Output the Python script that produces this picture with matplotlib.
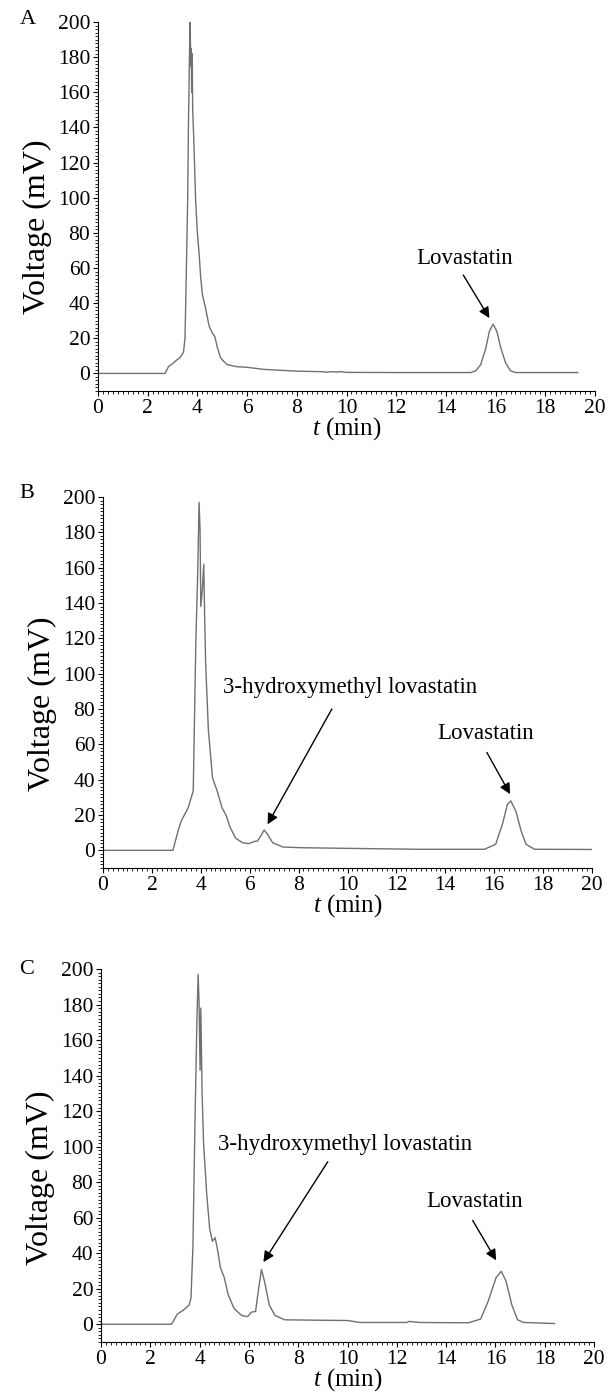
import numpy as np
import matplotlib.pyplot as plt
from matplotlib.ticker import MultipleLocator

plt.rcParams['font.family'] = ['Liberation Serif', 'DejaVu Serif']
plt.rcParams['mathtext.fontset'] = 'custom'
plt.rcParams['mathtext.rm'] = 'Liberation Serif'
plt.rcParams['mathtext.it'] = 'Liberation Serif:italic'

# chromatogram A (t in min, voltage in mV)
t_a = [0, 2.7, 2.84, 3.0, 3.11, 3.3, 3.44, 3.5, 3.53, 3.57, 3.61, 3.64, 3.68, 3.71,
       3.73, 3.75, 3.77, 3.79, 3.81, 3.85, 3.93, 4.0, 4.07, 4.13, 4.2, 4.33, 4.47,
       4.6, 4.7, 4.8, 4.93, 5.05, 5.2, 5.6, 6.0, 6.67, 8.0, 9.0, 9.2, 9.4, 9.6, 9.8,
       10.0, 12.0, 14.0, 15.0, 15.2, 15.4, 15.6, 15.75, 15.9, 16.05, 16.2, 16.4,
       16.6, 16.8, 19.3]
v_a = [0, 0, 4, 5.5, 7, 9, 12, 20, 40, 70, 100, 142, 180, 200,
       175, 185, 160, 182, 150, 135, 98, 80, 68, 55, 45, 37, 27,
       23, 21, 15, 9, 7, 5, 3.8, 3.5, 2.3, 1.3, 1.0, 0.7, 1.0, 0.8, 1.0,
       0.6, 0.5, 0.5, 0.5, 1.5, 5, 14, 24, 28, 24, 15, 6,
       1.5, 0.5, 0.5]

# chromatogram B
t_b = [0, 2.86, 3.07, 3.2, 3.48, 3.69, 3.8, 3.87, 3.93, 3.97, 4.0, 4.06, 4.12,
       4.15, 4.2, 4.31, 4.48, 4.66, 4.87, 5.03, 5.2, 5.42, 5.7, 5.97, 6.18, 6.32,
       6.45, 6.59, 6.73, 6.94, 7.35, 8.05, 10.1, 12.9, 15.0, 15.6, 16.06, 16.34,
       16.54, 16.68, 16.89, 17.1, 17.3, 17.65, 20.0]
v_b = [0, 0, 11, 16.6, 24, 33.6, 120, 155, 197, 181, 138, 147, 162,
       138, 105, 68, 41, 34, 24, 20, 13, 7, 4.3, 3.8, 5, 5.3,
       8, 11.5, 9, 4.3, 1.9, 1.5, 1.1, 0.6, 0.6, 0.6, 3.4, 15,
       26, 28, 22, 11, 3.4, 0.6, 0.5]

# chromatogram C
t_c = [0, 2.86, 3.1, 3.33, 3.57, 3.65, 3.73, 3.81, 3.89, 3.94, 3.98, 4.02, 4.05,
       4.1, 4.16, 4.29, 4.41, 4.52, 4.63, 4.73, 4.84, 5.0, 5.16, 5.4, 5.71, 5.95,
       6.1, 6.27, 6.38, 6.51, 6.63, 6.83, 7.06, 7.46, 8.57, 10.0, 10.5, 12.4, 12.5,
       12.9, 14.9, 15.4, 15.7, 16.03, 16.24, 16.43, 16.67, 16.9, 17.14, 18.4]
v_c = [0, 0, 5.8, 7.8, 10.7, 14.6, 44, 112, 170, 197, 180, 143, 178,
       131, 102, 73, 53.6, 46.7, 48.7, 41.9, 32, 26.3, 16.6, 8.8, 4.9, 4.3,
       6.8, 7.2, 18.5, 30.8, 24.3, 10.7, 4.9, 2.5, 2.3, 2.1, 1.0, 1.0, 1.6,
       1.0, 0.8, 2.9, 12.7, 26.3, 29.8, 24.3, 10.7, 2.5, 1.0, 0.4]

# labels: (text, text xy, arrow tail, arrow head)
notes_a = [("Lovastatin", (14.75, 65.5), (14.7, 56), (15.75, 31.5))]
notes_b = [("3-hydroxymethyl lovastatin", (10.1, 92), (9.36, 80), (6.73, 14.7)),
           ("Lovastatin", (15.65, 66), (15.7, 55.4), (16.65, 31.8))]
notes_c = [("3-hydroxymethyl lovastatin", (9.92, 101), (9.2, 91.5), (6.59, 35)),
           ("Lovastatin", (15.16, 69), (15.08, 58.4), (16.03, 36))]

W, H = 613, 1394
# axes boxes in pixels: left, bottom (x-axis line), width, height
panels = [("A", t_a, v_a, notes_a, (98, 391, 497, 369), (20, 20)),
          ("B", t_b, v_b, notes_b, (103, 868, 489, 371), (19, 494)),
          ("C", t_c, v_c, notes_c, (101, 1342, 493, 373), (19, 970))]

fig = plt.figure(figsize=(W / 100, H / 100), dpi=100)

for letter, t, v, notes, box, lab in panels:
    left, bottom, w, h = box
    ax = fig.add_axes([left / W, 1 - bottom / H, w / W, h / H])
    ax.plot(t, v, color='#707070', lw=1.0)
    ax.set_xlim(0, 20)
    ax.set_ylim(-10, 200)
    ax.spines['top'].set_visible(False)
    ax.spines['right'].set_visible(False)
    ax.xaxis.set_major_locator(MultipleLocator(2))
    ax.xaxis.set_minor_locator(MultipleLocator(0.2))
    ax.yaxis.set_minor_locator(MultipleLocator(2))
    ax.set_yticks(np.arange(0, 201, 20))
    ax.tick_params(which='major', direction='out', length=3.5, width=0.8,
                   labelsize=15.5, pad=2)
    ax.tick_params(which='minor', direction='out', length=2, width=0.6)
    ax.set_xlabel(r'$\it{t}$ (min)', fontsize=18, labelpad=-2)
    ax.set_ylabel('Voltage (mV)', fontsize=23)
    ax.yaxis.set_label_coords(-46 / w, 164 / h)
    fig.text(lab[0] / W, 1 - lab[1] / H, letter, fontsize=16,
             ha='left', va='center')
    for label, txy, tail, head in notes:
        ax.text(txy[0], txy[1], label, fontsize=16.5, ha='center', va='center')
        ax.annotate('', xy=head, xytext=tail,
                    arrowprops=dict(arrowstyle='-|>', color='k', lw=1.0,
                                    mutation_scale=16, shrinkA=0, shrinkB=0))

plt.savefig('out.png', dpi=100)
